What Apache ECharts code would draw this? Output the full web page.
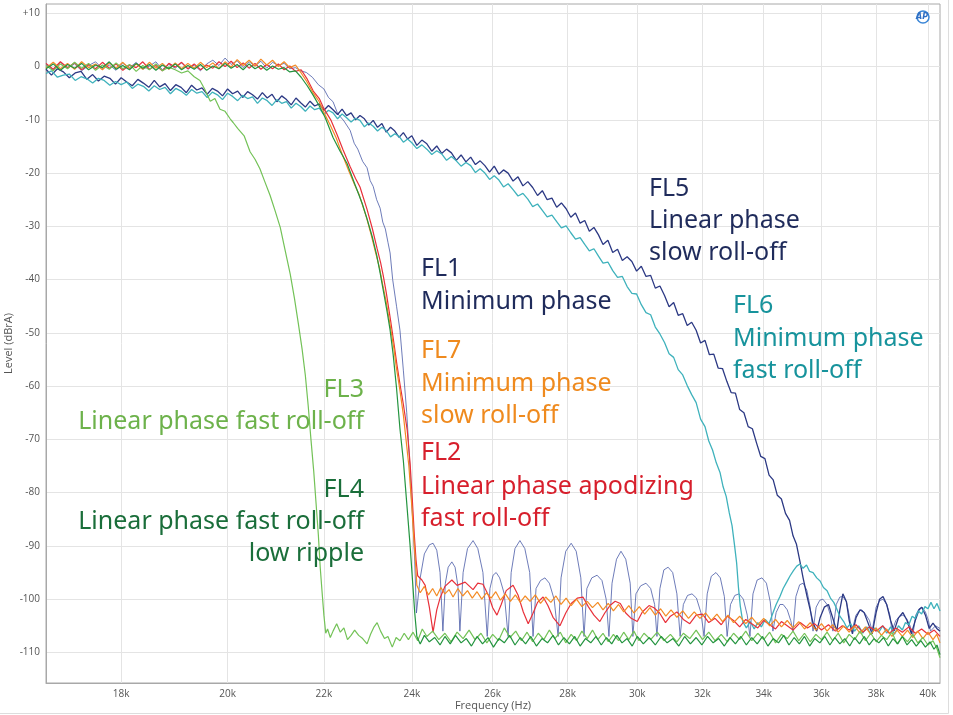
<!DOCTYPE html>
<html>
<head>
<meta charset="utf-8">
<script src="https://cdn.jsdelivr.net/npm/echarts@6.0.0/dist/echarts.min.js"></script>
<style>
html, body { margin: 0; padding: 0; background: #fff; }
#main { width: 953px; height: 715px; }
</style>
</head>
<body>
<div id="main"></div>
<script>
// tick labels
var xTicks = [18, 20, 22, 24, 26, 28, 30, 32, 34, 36, 38, 40];   // kHz
var yTicks = [-110, -100, -90, -80, -70, -60, -50, -40, -30, -20, -10, 0, 10];

// [frequency kHz, level dBrA]
var fl1 = [[16.71,0.4],[16.83,-0.6],[16.95,0.8],[17.07,-0.3],[17.19,0.5],[17.31,-0.8],[17.43,0.2],[17.55,0.9],[17.67,-0.4],[17.79,0.3],[17.91,-0.7],[18.03,0.6],[18.15,-0.2],[18.27,0.8],[18.39,-0.5],[18.51,0.1],[18.63,0.9],[18.75,-0.6],[18.87,0.4],[18.99,-0.3],[19.11,0.7],[19.23,-0.5],[19.35,0.3],[19.47,-0.8],[19.59,0.5],[19.71,1.2],[19.83,0.2],[19.95,1.6],[20.07,0.4],[20.19,1.1],[20.31,-0.2],[20.43,0.9],[20.55,0.1],[20.67,1.0],[20.79,-0.3],[20.91,0.8],[21.03,0.2],[21.15,0.6],[21.27,-0.4],[21.39,-0.2],[21.5,-0.8],[21.62,-1.1],[21.75,-2.0],[21.88,-3.4],[22.0,-4.2],[22.1,-5.8],[22.2,-6.6],[22.3,-8.8],[22.44,-10.2],[22.58,-12.0],[22.67,-14.4],[22.75,-15.5],[22.86,-17.8],[22.96,-19.0],[23.03,-21.4],[23.1,-22.5],[23.18,-25.0],[23.26,-26.6],[23.32,-29.2],[23.38,-30.5],[23.44,-33.0],[23.49,-35.0],[23.55,-40.0],[23.64,-45.0],[23.72,-49.5],[23.8,-57.0],[23.88,-65.0],[23.94,-73.0],[23.99,-81.0],[24.04,-87.5],[24.07,-93.0],[24.11,-102.6],
  [24.2,-96],[24.3,-91.5],[24.42,-89.8],[24.51,-89.5],[24.6,-90.8],[24.68,-95],[24.75,-106],[24.81,-97],[24.88,-94],[24.97,-93],[25.05,-94],[25.12,-97.5],[25.17,-106],[25.25,-95],[25.36,-90.5],[25.5,-89],[25.62,-90.5],[25.75,-95],[25.86,-107],[25.93,-98],[26.01,-95.5],[26.09,-95],[26.18,-96],[26.3,-99],[26.4,-107],[26.48,-95],[26.58,-90.5],[26.71,-89],[26.84,-90.5],[26.97,-95],[27.06,-107],[27.14,-98],[27.26,-96.5],[27.38,-96],[27.5,-97],[27.63,-100],[27.74,-107],[27.82,-96],[27.95,-91],[28.1,-89.5],[28.24,-91],[28.37,-96],[28.46,-107],[28.54,-98],[28.68,-96],[28.83,-95.5],[28.97,-96.5],[29.09,-100],[29.17,-107],[29.26,-97],[29.39,-92.5],[29.52,-91],[29.66,-92.5],[29.79,-97],[29.87,-107],[29.96,-99],[30.1,-97.5],[30.26,-97],[30.4,-98],[30.52,-101],[30.59,-107],[30.68,-98],[30.8,-94.5],[30.93,-94],[31.07,-95],[31.2,-99],[31.3,-107],[31.4,-101],[31.53,-99.3],[31.67,-99],[31.81,-99.8],[31.95,-102.5],[32.05,-107],[32.15,-99],[32.28,-95.7],[32.43,-95],[32.57,-96],[32.7,-99.5],[32.79,-107],[32.9,-101],[33.04,-99.3],[33.18,-99],[33.32,-100],[33.45,-103],[33.54,-107],[33.64,-99],[33.78,-96.4],[33.94,-96],[34.09,-97],[34.22,-100.5],[34.31,-106],[34.42,-102.5],[34.55,-101],[34.66,-101],[34.8,-102],[34.92,-104],[35.0,-106],[35.1,-99.5],[35.23,-97.3],[35.35,-97],[35.48,-98.3],[35.6,-101.5],[35.7,-106],[35.81,-101.5],[35.94,-100.2],[36.05,-100],[36.2,-101],[36.32,-103],[36.41,-106],[36.53,-101],[36.66,-99.6],[36.77,-99.5],[36.9,-100.5],[37.0,-103],[37.1,-106],[37.25,-103],[37.37,-102.2],[37.47,-102],[37.6,-102.8],[37.75,-104],[37.85,-106],[38.0,-101.5],[38.13,-100.3],[38.26,-100],[38.4,-101],[38.52,-103],[38.6,-106],[38.75,-104],[38.9,-103.2],[39.02,-103],[39.16,-103.6],[39.3,-105],[39.4,-107],[39.52,-103],[39.65,-101.8],[39.76,-101.5],[39.9,-102.4],[40.02,-104],[40.1,-106],[40.3,-105],[40.48,-105.5]];

var fl2 = [[16.71,0.6],[16.83,-0.5],[16.95,0.9],[17.07,-0.2],[17.19,0.7],[17.31,-0.6],[17.43,0.4],[17.55,-0.4],[17.67,0.8],[17.79,-0.3],[17.91,0.5],[18.03,-0.7],[18.15,0.3],[18.27,-0.2],[18.39,0.9],[18.51,-0.5],[18.63,0.2],[18.75,-0.8],[18.87,0.6],[18.99,-0.1],[19.11,0.8],[19.23,-0.4],[19.35,0.5],[19.47,-0.6],[19.59,0.3],[19.71,-0.3],[19.83,0.9],[19.95,0.0],[20.07,1.0],[20.19,-0.2],[20.31,0.7],[20.43,-0.3],[20.55,0.6],[20.67,-0.5],[20.79,0.4],[20.91,-0.4],[21.03,0.5],[21.15,-0.6],[21.27,0.1],[21.39,-0.9],[21.51,-0.6],[21.63,-2.2],[21.77,-4.6],[21.9,-6.0],[22.0,-7.9],[22.15,-10.0],[22.29,-12.8],[22.42,-15.6],[22.58,-18.8],[22.7,-21.0],[22.8,-22.6],[22.96,-26.8],[23.08,-30.4],[23.19,-34.2],[23.27,-36.8],[23.33,-39.2],[23.4,-42.4],[23.5,-47.6],[23.58,-52.0],[23.65,-56.0],[23.72,-59.6],[23.8,-63.4],[23.89,-68.2],[23.96,-74.6],[24.01,-81.0],[24.06,-88.0],[24.1,-92.6],[24.14,-95.6],
  [24.24,-96.4],[24.32,-97.4],[24.42,-101.5],[24.51,-106.2],[24.6,-102.0],[24.68,-99.8],[24.8,-97.6],[24.97,-96.4],[25.1,-97.4],[25.3,-96.8],[25.5,-98.2],[25.62,-97.0],[25.75,-97.2],[25.9,-99.4],[26.0,-101.6],[26.11,-103.0],[26.22,-101.0],[26.35,-98.4],[26.53,-97.4],[26.66,-99.2],[26.8,-102.4],[26.93,-104.6],[27.05,-102.8],[27.18,-100.6],[27.33,-99.6],[27.46,-101.2],[27.6,-103.4],[27.79,-105.0],[27.95,-102.6],[28.1,-100.8],[28.27,-99.8],[28.43,-99.6],[28.58,-101.4],[28.74,-103.0],[28.91,-104.2],[29.05,-102.6],[29.2,-101.2],[29.35,-100.4],[29.5,-100.8],[29.66,-102.6],[29.82,-103.6],[30.0,-104.2],[30.15,-102.4],[30.35,-101.2],[30.5,-101.6],[30.67,-102.6],[30.85,-104.4],[31.0,-103.2],[31.2,-102.4],[31.4,-103.8],[31.6,-104.6],[31.8,-103.0],[32.0,-102.8],[32.2,-104.4],[32.4,-103.6],[32.6,-104.8],[32.8,-103.2],[33.0,-104.0],[33.2,-105.2],[33.4,-103.8],[33.6,-104.6],[33.8,-105.4],[34.0,-104.0],[34.2,-104.8],[34.4,-105.6],[34.6,-104.2],[34.8,-105.0],[35.0,-105.8],[35.25,-104.4],[35.5,-105.4],[35.75,-104.6],[36.0,-105.8],[36.25,-104.8],[36.5,-106.0],[36.75,-105.0],[37.0,-105.8],[37.25,-104.8],[37.5,-106.2],[37.75,-105.2],[38.0,-106.0],[38.25,-105.0],[38.5,-106.4],[38.75,-105.4],[39.0,-106.2],[39.25,-105.2],[39.5,-106.4],[39.75,-105.6],[40.0,-106.6],[40.25,-105.8],[40.48,-107.0]];

var fl3 = [[16.71,0.2],[16.83,-0.8],[16.95,0.5],[17.07,-0.4],[17.19,0.8],[17.31,-0.3],[17.43,0.6],[17.55,-0.7],[17.67,0.3],[17.79,-0.5],[17.91,0.7],[18.03,-0.4],[18.15,0.4],[18.27,-0.9],[18.39,0.2],[18.51,-0.6],[18.63,0.5],[18.75,-0.8],[18.87,-0.1],[18.99,-0.6],[19.11,-1.2],[19.23,-0.8],[19.35,-1.9],[19.46,-2.6],[19.55,-4.2],[19.66,-6.5],[19.75,-6.0],[19.85,-8.0],[19.95,-8.4],[20.05,-9.8],[20.11,-10.5],[20.2,-11.6],[20.33,-13.0],[20.45,-16.0],[20.55,-17.4],[20.65,-19.2],[20.75,-21.6],[20.86,-24.2],[20.96,-27.0],[21.07,-30.2],[21.17,-34.4],[21.28,-39.0],[21.37,-43.6],[21.45,-48.2],[21.53,-53.0],[21.6,-58.0],[21.66,-63.6],[21.72,-70.0],[21.78,-76.0],[21.83,-82.0],[21.88,-88.0],[21.92,-94.0],[21.96,-98.6],[22.0,-103.0],[22.04,-106.4],
  [22.08,-105.6],[22.14,-107.2],[22.2,-106.0],[22.28,-104.6],[22.36,-106.2],[22.44,-105.4],[22.52,-107.6],[22.6,-106.8],[22.68,-105.8],[22.77,-106.8],[22.86,-107.4],[22.96,-108.4],[23.04,-106.6],[23.12,-105.2],[23.19,-104.4],[23.27,-106.0],[23.36,-107.4],[23.44,-107.0],[23.54,-109.0],[23.63,-107.2],[23.72,-107.8],[23.82,-106.4],[23.92,-107.6],[24.03,-106.2],[24.14,-107.8],[24.25,-105.6],[24.36,-107.0],[24.5,-106.0],[24.65,-107.6],[24.8,-106.4],[24.95,-108.0],[25.1,-106.2],[25.25,-107.4],[25.4,-105.8],[25.55,-107.6],[25.7,-106.4],[25.85,-108.2],[26.0,-106.6],[26.15,-107.8],[26.3,-105.4],[26.45,-107.2],[26.6,-106.0],[26.75,-107.8],[26.9,-106.2],[27.05,-108.0],[27.2,-106.4],[27.35,-107.6],[27.5,-105.8],[27.65,-107.4],[27.8,-106.2],[27.95,-108.2],[28.1,-106.6],[28.25,-107.8],[28.4,-106.0],[28.55,-107.4],[28.7,-105.8],[28.85,-107.6],[29.0,-106.4],[29.15,-108.0],[29.3,-106.6],[29.45,-107.8],[29.6,-106.2],[29.75,-107.6],[29.9,-106.0],[30.05,-107.8],[30.2,-106.4],[30.4,-107.6],[30.6,-106.2],[30.8,-107.8],[31.0,-106.6],[31.2,-108.0],[31.4,-106.4],[31.6,-107.4],[31.8,-105.8],[32.0,-107.6],[32.2,-106.2],[32.4,-107.8],[32.6,-106.6],[32.8,-108.0],[33.0,-106.4],[33.2,-107.6],[33.4,-106.0],[33.6,-107.8],[33.8,-106.4],[34.0,-107.6],[34.2,-106.2],[34.4,-108.2],[34.6,-106.6],[34.8,-107.4],[35.0,-106.0],[35.2,-107.8],[35.4,-106.4],[35.6,-108.0],[35.8,-106.6],[36.0,-107.6],[36.2,-106.2],[36.4,-107.8],[36.6,-106.4],[36.8,-108.2],[37.0,-106.6],[37.2,-107.6],[37.4,-106.0],[37.6,-107.8],[37.8,-106.4],[38.0,-108.0],[38.2,-106.8],[38.4,-107.6],[38.6,-106.2],[38.8,-108.4],[39.0,-107.0],[39.2,-108.0],[39.4,-106.6],[39.6,-108.2],[39.8,-107.2],[40.0,-108.6],[40.2,-107.8],[40.35,-109.2],[40.48,-111.0]];

var fl4 = [[16.71,-0.4],[16.83,0.5],[16.95,-0.7],[17.07,0.4],[17.19,-0.3],[17.31,0.6],[17.43,-0.6],[17.55,0.3],[17.67,-0.2],[17.79,0.9],[17.91,-0.5],[18.03,0.2],[18.15,-0.6],[18.27,0.6],[18.39,-0.3],[18.51,0.4],[18.63,-0.7],[18.75,0.3],[18.87,-0.4],[18.99,0.5],[19.11,-0.6],[19.23,0.2],[19.35,-0.5],[19.47,0.4],[19.59,-0.7],[19.71,0.1],[19.83,-0.4],[19.95,0.6],[20.07,-0.3],[20.19,0.4],[20.31,-0.6],[20.43,0.5],[20.55,-0.4],[20.67,0.2],[20.79,-0.7],[20.91,0.1],[21.03,-0.5],[21.15,-0.2],[21.27,-1.0],[21.39,-0.8],[21.51,-2.0],[21.64,-3.6],[21.77,-5.4],[21.9,-7.4],[22.03,-9.6],[22.2,-13.3],[22.35,-15.8],[22.51,-18.2],[22.68,-22.0],[22.85,-25.7],[22.96,-28.6],[23.08,-32.0],[23.18,-35.4],[23.26,-38.8],[23.34,-42.4],[23.42,-46.0],[23.49,-49.5],[23.56,-54.0],[23.64,-60.4],[23.72,-68.0],[23.8,-74.0],[23.88,-82.0],[23.96,-90.0],[24.03,-98.0],[24.07,-102.6],[24.12,-107.0],
  [24.2,-108.4],[24.3,-106.8],[24.42,-108.0],[24.55,-107.2],[24.68,-108.6],[24.8,-107.0],[24.93,-108.4],[25.06,-106.8],[25.2,-108.2],[25.33,-107.4],[25.46,-108.8],[25.6,-107.0],[25.74,-108.4],[25.88,-107.2],[26.02,-109.0],[26.16,-107.4],[26.3,-108.2],[26.44,-106.8],[26.58,-108.6],[26.72,-107.2],[26.86,-108.4],[27.0,-107.0],[27.15,-108.8],[27.3,-107.4],[27.45,-108.2],[27.6,-106.8],[27.75,-108.6],[27.9,-107.2],[28.05,-108.4],[28.2,-107.0],[28.35,-108.8],[28.5,-107.4],[28.65,-108.2],[28.8,-107.0],[28.95,-108.6],[29.1,-107.2],[29.25,-108.4],[29.4,-106.8],[29.55,-108.2],[29.7,-107.4],[29.85,-108.8],[30.0,-107.0],[30.18,-108.4],[30.36,-107.2],[30.54,-108.6],[30.72,-107.0],[30.9,-108.2],[31.08,-107.4],[31.26,-108.8],[31.44,-107.0],[31.62,-108.4],[31.8,-107.2],[31.98,-108.6],[32.16,-107.0],[32.34,-108.2],[32.52,-107.4],[32.7,-108.8],[32.88,-107.2],[33.06,-108.4],[33.24,-107.0],[33.42,-108.6],[33.6,-107.2],[33.78,-108.4],[33.96,-107.0],[34.14,-108.8],[34.32,-107.4],[34.5,-108.2],[34.68,-106.8],[34.86,-108.6],[35.04,-107.2],[35.22,-108.4],[35.4,-107.0],[35.58,-108.8],[35.76,-107.4],[35.94,-108.2],[36.12,-107.0],[36.3,-108.6],[36.48,-107.2],[36.66,-108.4],[36.84,-107.4],[37.02,-108.8],[37.2,-107.2],[37.38,-108.4],[37.56,-107.0],[37.74,-108.6],[37.92,-107.4],[38.1,-108.2],[38.28,-107.2],[38.46,-108.8],[38.64,-107.4],[38.82,-108.4],[39.0,-107.0],[39.18,-108.6],[39.36,-107.6],[39.54,-108.8],[39.72,-107.8],[39.9,-109.0],[40.08,-108.0],[40.24,-109.4],[40.36,-108.6],[40.48,-110.4]];

var fl5 = [[16.71,-0.5],[16.8,-1.6],[16.9,-0.4],[17.0,-1.0],[17.1,-2.1],[17.2,-1.2],[17.3,-0.9],[17.4,-2.4],[17.5,-1.5],[17.6,-2.7],[17.7,-1.8],[17.8,-2.2],[17.9,-3.3],[18.0,-2.1],[18.1,-2.9],[18.2,-3.6],[18.3,-2.4],[18.4,-3.1],[18.5,-3.9],[18.6,-2.6],[18.7,-3.8],[18.8,-3.2],[18.9,-4.5],[19.0,-3.4],[19.1,-3.9],[19.2,-4.9],[19.3,-3.5],[19.4,-4.4],[19.5,-4.0],[19.6,-5.2],[19.7,-4.1],[19.8,-4.6],[19.9,-5.5],[20.0,-4.2],[20.1,-5.1],[20.2,-4.6],[20.3,-5.8],[20.4,-4.7],[20.5,-5.3],[20.6,-6.1],[20.7,-4.9],[20.8,-5.9],[20.9,-5.2],[21.0,-6.6],[21.1,-5.5],[21.2,-6.2],[21.3,-7.2],[21.4,-5.9],[21.5,-6.8],[21.6,-7.6],[21.7,-6.5],[21.8,-7.4],[21.9,-7.0],[22.0,-8.2],[22.1,-7.3],[22.2,-8.1],[22.3,-9.0],[22.4,-8.0],[22.5,-9.2],[22.6,-8.7],[22.7,-10.0],[22.8,-9.2],[22.9,-9.8],[23.0,-11.0],[23.1,-10.1],[23.2,-11.4],[23.3,-10.7],[23.4,-12.3],[23.5,-11.4],[23.6,-12.1],[23.7,-13.3],[23.8,-12.4],[23.9,-13.6],[24.0,-13.0],[24.12,-14.8],[24.24,-13.8],[24.36,-14.5],[24.48,-15.9],[24.6,-14.9],[24.72,-16.3],[24.84,-15.5],[24.96,-16.2],[25.08,-17.6],[25.2,-16.6],[25.32,-17.9],[25.44,-17.0],[25.56,-18.4],[25.68,-17.7],[25.8,-18.6],[25.92,-19.8],[26.04,-18.7],[26.16,-20.2],[26.28,-19.4],[26.4,-20.0],[26.53,-21.5],[26.66,-20.7],[26.79,-22.4],[26.92,-21.6],[27.05,-22.7],[27.18,-24.2],[27.31,-23.3],[27.44,-25.0],[27.57,-24.7],[27.7,-26.4],[27.83,-25.6],[27.96,-26.7],[28.09,-28.3],[28.22,-27.5],[28.35,-29.4],[28.48,-28.9],[28.61,-30.9],[28.74,-30.2],[28.87,-31.6],[29.0,-33.4],[29.14,-32.6],[29.28,-34.9],[29.42,-34.3],[29.56,-36.4],[29.7,-35.7],[29.84,-36.6],[29.98,-38.4],[30.12,-37.5],[30.26,-39.4],[30.4,-39.2],[30.54,-41.6],[30.68,-41.2],[30.82,-43.0],[30.96,-45.1],[31.1,-44.3],[31.24,-46.7],[31.38,-46.4],[31.52,-48.6],[31.66,-48.0],[31.8,-49.5],[31.94,-51.9],[32.08,-51.4],[32.22,-54.1],[32.36,-54.0],[32.5,-56.6],[32.64,-56.7],[32.78,-59.1],[32.92,-61.2],[33.06,-61.3],[33.2,-64.4],[33.34,-65.0],[33.48,-67.6],[33.62,-68.0],[33.76,-70.7],[33.9,-73.2],[34.04,-73.6],[34.18,-76.7],[34.32,-77.6],[34.46,-80.5],[34.6,-81.2],[34.74,-83.9],[34.88,-85.2],[35.0,-88.1],[35.12,-89.7],[35.24,-92.9],[35.35,-96],[35.49,-99.5],[35.6,-102],[35.7,-104.5],[35.83,-106],
  [35.95,-103.5],[36.1,-101.5],[36.25,-101],[36.4,-103.5],[36.55,-106],[36.66,-102],[36.77,-99],[36.9,-100.5],[37.0,-104],[37.12,-106.5],[37.25,-103.5],[37.4,-102],[37.55,-102.5],[37.7,-104.5],[37.85,-106.5],[38.0,-102.5],[38.13,-100],[38.26,-99.5],[38.4,-101],[38.55,-104],[38.68,-106],[38.85,-103.5],[39.02,-102.5],[39.18,-104],[39.35,-106.5],[39.5,-104],[39.65,-102],[39.76,-101.5],[39.9,-103],[40.05,-105.5],[40.2,-104.5],[40.35,-105.5],[40.48,-106]];

var fl6 = [[16.71,-1.3],[16.8,-0.8],[16.9,-2.0],[17.0,-1.6],[17.1,-1.4],[17.2,-2.6],[17.3,-1.9],[17.4,-2.3],[17.5,-3.1],[17.6,-2.2],[17.7,-2.6],[17.8,-3.5],[17.9,-2.8],[18.0,-3.4],[18.1,-2.9],[18.2,-4.1],[18.3,-3.3],[18.4,-3.7],[18.5,-4.6],[18.6,-3.6],[18.7,-4.3],[18.8,-3.9],[18.9,-5.1],[19.0,-4.1],[19.1,-4.6],[19.2,-5.4],[19.3,-4.3],[19.4,-5.0],[19.5,-4.7],[19.6,-5.8],[19.7,-4.8],[19.8,-5.3],[19.9,-6.2],[20.0,-5.0],[20.1,-5.6],[20.2,-6.4],[20.3,-5.4],[20.4,-6.0],[20.5,-5.7],[20.6,-6.9],[20.7,-5.9],[20.8,-6.4],[20.9,-7.3],[21.0,-6.2],[21.1,-6.9],[21.2,-6.6],[21.3,-7.8],[21.4,-6.9],[21.5,-7.5],[21.6,-8.4],[21.7,-7.4],[21.8,-8.1],[21.9,-7.8],[22.0,-9.0],[22.1,-8.2],[22.2,-8.7],[22.3,-9.8],[22.4,-8.9],[22.5,-9.6],[22.6,-10.4],[22.7,-9.7],[22.8,-10.1],[22.9,-11.3],[23.0,-10.6],[23.1,-11.2],[23.2,-12.1],[23.3,-11.4],[23.4,-12.0],[23.5,-13.2],[23.6,-12.6],[23.7,-13.1],[23.8,-14.2],[23.9,-13.6],[24.0,-14.3],[24.12,-15.4],[24.24,-14.7],[24.36,-15.5],[24.48,-16.5],[24.6,-15.8],[24.72,-16.4],[24.84,-17.6],[24.96,-16.9],[25.08,-17.7],[25.2,-18.7],[25.32,-18.0],[25.44,-18.6],[25.56,-19.9],[25.68,-19.2],[25.8,-20.0],[25.92,-21.2],[26.04,-20.5],[26.16,-21.3],[26.28,-22.6],[26.4,-22.0],[26.53,-23.1],[26.66,-24.3],[26.79,-23.8],[26.92,-24.9],[27.05,-26.3],[27.18,-25.8],[27.31,-27.0],[27.44,-28.2],[27.57,-27.9],[27.7,-29.1],[27.83,-30.3],[27.96,-29.9],[28.09,-31.2],[28.22,-32.4],[28.35,-32.1],[28.48,-33.4],[28.61,-34.6],[28.74,-34.2],[28.87,-35.6],[29.0,-36.9],[29.14,-36.7],[29.28,-38.3],[29.42,-39.6],[29.56,-39.4],[29.7,-41.3],[29.84,-42.6],[29.98,-42.7],[30.12,-44.7],[30.26,-46.2],[30.4,-46.6],[30.54,-48.9],[30.68,-50.2],[30.82,-51.8],[30.96,-53.9],[31.1,-54.6],[31.24,-56.9],[31.38,-57.9],[31.52,-59.9],[31.66,-61.6],[31.8,-63.1],[31.94,-66.2],[32.08,-67.6],[32.2,-70.3],[32.32,-72.0],[32.44,-74.4],[32.56,-76.2],[32.66,-78.9],[32.76,-80.7],[32.86,-83.8],[32.95,-86.2],[33.03,-89.8],[33.1,-93.2],[33.16,-97.8],[33.22,-101.3],[33.3,-104.2],
  [33.42,-105.4],[33.55,-104.2],[33.68,-105.6],[33.8,-104.4],[33.92,-105.2],[34.05,-103.8],[34.18,-104.6],[34.31,-102.6],[34.42,-101],[34.55,-99.5],[34.66,-98],[34.78,-96.8],[34.9,-95.6],[35.02,-94.6],[35.13,-93.8],[35.24,-93.4],[35.35,-94.2],[35.47,-93.6],[35.58,-94.8],[35.7,-95.0],[35.83,-96.0],[35.95,-96.6],[36.07,-97.8],[36.2,-98.4],[36.32,-99.8],[36.44,-100.6],[36.53,-101.6],[36.66,-103.2],[36.8,-104.2],[36.92,-105.4],[37.05,-104.6],[37.2,-106.0],[37.35,-105.0],[37.5,-106.4],[37.65,-105.2],[37.8,-106.6],[37.95,-105.4],[38.1,-106.2],[38.25,-105.0],[38.4,-106.4],[38.55,-105.2],[38.7,-106.6],[38.85,-105.0],[39.0,-105.8],[39.12,-104.4],[39.25,-104.8],[39.38,-103.2],[39.5,-103.6],[39.62,-102.2],[39.75,-102.8],[39.88,-101.4],[40.0,-101.8],[40.12,-100.6],[40.24,-101.8],[40.36,-100.8],[40.48,-102.2]];

var fl7 = [[16.71,-0.3],[16.83,0.8],[16.95,-0.4],[17.07,0.6],[17.19,-0.5],[17.31,0.9],[17.43,-0.2],[17.55,0.5],[17.67,-0.6],[17.79,0.7],[17.91,-0.3],[18.03,0.8],[18.15,-0.4],[18.27,0.5],[18.39,-0.5],[18.51,0.8],[18.63,-0.3],[18.75,0.6],[18.87,-0.5],[18.99,0.7],[19.11,-0.4],[19.23,0.6],[19.35,-0.3],[19.47,0.8],[19.59,-0.2],[19.71,0.7],[19.83,-0.4],[19.95,0.9],[20.07,-0.1],[20.19,1.3],[20.31,0.2],[20.43,1.2],[20.55,0.1],[20.67,1.4],[20.79,0.3],[20.91,1.2],[21.03,0.0],[21.15,0.9],[21.27,-0.2],[21.39,0.3],[21.51,-1.2],[21.63,-2.8],[21.77,-5.0],[21.9,-6.6],[22.0,-8.6],[22.14,-11.0],[22.27,-13.4],[22.4,-16.4],[22.55,-19.6],[22.68,-22.2],[22.78,-24.0],[22.95,-28.4],[23.06,-31.8],[23.17,-35.4],[23.25,-38.0],[23.31,-40.6],[23.4,-44.2],[23.5,-49.0],[23.58,-53.0],[23.63,-56.2],[23.72,-60.8],[23.8,-65.4],[23.86,-69.8],[23.93,-75.0],[24.0,-82.6],[24.05,-89.0],[24.09,-93.4],[24.12,-97.4],
  [24.2,-98.8],[24.3,-97.6],[24.4,-99.2],[24.5,-98.0],[24.6,-99.4],[24.7,-97.8],[24.8,-99.0],[24.9,-98.2],[25.0,-99.6],[25.12,-98.0],[25.24,-99.4],[25.36,-98.4],[25.48,-99.8],[25.6,-98.6],[25.72,-100.0],[25.84,-98.8],[25.96,-99.8],[26.08,-98.6],[26.2,-100.2],[26.33,-99.0],[26.46,-100.4],[26.59,-99.2],[26.72,-100.6],[26.85,-99.4],[26.98,-100.4],[27.12,-99.2],[27.26,-100.8],[27.4,-99.6],[27.54,-100.6],[27.68,-99.4],[27.82,-101.0],[27.96,-99.8],[28.1,-101.2],[28.25,-100.0],[28.4,-101.4],[28.55,-100.4],[28.7,-101.6],[28.85,-100.6],[29.0,-102.0],[29.15,-100.8],[29.3,-102.2],[29.45,-101.0],[29.6,-102.4],[29.75,-101.2],[29.9,-102.6],[30.06,-101.4],[30.22,-102.8],[30.38,-101.6],[30.54,-103.0],[30.7,-101.8],[30.86,-103.2],[31.02,-102.0],[31.2,-103.4],[31.38,-102.2],[31.56,-103.6],[31.74,-102.4],[31.92,-103.6],[32.1,-102.6],[32.28,-104.0],[32.46,-102.8],[32.64,-104.2],[32.82,-103.0],[33.0,-104.4],[33.2,-103.2],[33.4,-104.6],[33.6,-103.4],[33.8,-104.8],[34.0,-103.6],[34.2,-105.0],[34.4,-103.8],[34.6,-105.2],[34.8,-104.0],[35.0,-105.4],[35.2,-104.2],[35.4,-105.6],[35.6,-104.4],[35.8,-105.8],[36.0,-104.6],[36.2,-106.0],[36.4,-104.8],[36.6,-106.2],[36.8,-105.0],[37.0,-106.2],[37.2,-105.0],[37.4,-106.4],[37.6,-105.2],[37.8,-106.6],[38.0,-105.4],[38.2,-106.8],[38.4,-105.6],[38.6,-107.0],[38.8,-105.8],[39.0,-107.0],[39.2,-105.8],[39.4,-107.2],[39.6,-106.0],[39.8,-107.4],[40.0,-106.2],[40.2,-107.6],[40.35,-106.6],[40.48,-108.2]];

// 曲线说明文字: [text, x, y, color, align]
var labels = [
    ['FL5', 649, 186, '#1f2b5b', 'left'],
    ['Linear phase', 649, 218, '#1f2b5b', 'left'],
    ['slow roll-off', 649, 250, '#1f2b5b', 'left'],
    ['FL6', 733, 303, '#17939c', 'left'],
    ['Minimum phase', 733, 336, '#17939c', 'left'],
    ['fast roll-off', 733, 368, '#17939c', 'left'],
    ['FL1', 421, 266, '#1f2b5b', 'left'],
    ['Minimum phase', 421, 299, '#1f2b5b', 'left'],
    ['FL7', 421, 348, '#ef8a1e', 'left'],
    ['Minimum phase', 421, 381, '#ef8a1e', 'left'],
    ['slow roll-off', 421, 413, '#ef8a1e', 'left'],
    ['FL2', 421, 450, '#d71f2c', 'left'],
    ['Linear phase apodizing', 421, 484, '#d71f2c', 'left'],
    ['fast roll-off', 421, 516, '#d71f2c', 'left'],
    ['FL3', 364, 387, '#6db24b', 'right'],
    ['Linear phase fast roll-off', 364, 419, '#6db24b', 'right'],
    ['FL4', 364, 487, '#1a6e3a', 'right'],
    ['Linear phase fast roll-off', 364, 519, '#1a6e3a', 'right'],
    ['low ripple', 364, 551, '#1a6e3a', 'right']
];

function makeSeries(name, data, color, width, opacity) {
    return {
        name: name,
        type: 'line',
        data: data,
        showSymbol: false,
        silent: true,
        lineStyle: { color: color, width: width, opacity: opacity }
    };
}

var myChart = echarts.init(document.getElementById('main'));

var graphics = labels.map(function (l) {
    return {
        type: 'text',
        x: l[1],
        y: l[2] + 2.5,
        z: 100,
        style: {
            text: l[0],
            fill: l[3],
            align: l[4],
            verticalAlign: 'middle',
            font: '25px "Noto Sans"'
        }
    };
});
graphics.push({ type: 'line', shape: { x1: 948.5, y1: 0, x2: 948.5, y2: 713.5 }, style: { stroke: '#dddddd', lineWidth: 1 } });
graphics.push({ type: 'line', shape: { x1: 0, y1: 713.5, x2: 948.5, y2: 713.5 }, style: { stroke: '#dddddd', lineWidth: 1 } });
graphics.push({ type: 'circle', shape: { cx: 923, cy: 17, r: 6 }, style: { fill: 'none', stroke: '#3b86d6', lineWidth: 1.5 }, z: 100 });
graphics.push({ type: 'text', x: 922, y: 17, z: 101, style: { text: 'AP', fill: '#2f6fc4', align: 'center', verticalAlign: 'middle', font: 'italic bold 8px "DejaVu Sans"' } });

var option = {
    animation: false,
    backgroundColor: '#ffffff',
    grid: {
        left: 46, right: 13, top: 4, bottom: 32,
        show: true, borderColor: '#a8a8a8', borderWidth: 1,
        outerBoundsMode: 'none'
    },
    xAxis: {
        type: 'log',
        logBase: 10,
        min: 16.71,
        max: 40.48,
        name: 'Frequency (Hz)',
        nameLocation: 'middle',
        nameGap: 17,
        nameMoveOverlap: false,
        nameTextStyle: { color: '#555', fontSize: 11, fontFamily: 'Open Sans' },
        axisLine: { show: true, onZero: false, lineStyle: { color: '#a8a8a8' } },
        axisTick: { show: false, customValues: xTicks },
        axisLabel: {
            customValues: xTicks,
            color: '#555', fontSize: 10, fontFamily: 'Open Sans', margin: 6,
            formatter: function (v) { return Math.round(v) + 'k'; }
        },
        splitLine: { show: true, lineStyle: { color: '#e4e4e4' } },
        minorSplitLine: { show: false }
    },
    yAxis: {
        type: 'value',
        min: -115.74,
        max: 11.75,
        name: 'Level (dBrA)',
        nameLocation: 'middle',
        nameGap: 32,
        nameMoveOverlap: false,
        nameTextStyle: { color: '#555', fontSize: 11, fontFamily: 'Open Sans' },
        axisLine: { show: true, lineStyle: { color: '#a8a8a8' } },
        axisTick: { show: false, customValues: yTicks },
        axisLabel: {
            customValues: yTicks,
            color: '#555', fontSize: 10, fontFamily: 'Open Sans', margin: 6,
            formatter: function (v) { return v > 0 ? '+' + v : String(v); }
        },
        splitLine: { show: true, lineStyle: { color: '#e4e4e4' } }
    },
    series: [
        makeSeries('FL1', fl1, '#4a5ba8', 1.0, 0.8),
        makeSeries('FL5', fl5, '#2c3984', 1.3, 1),
        makeSeries('FL6', fl6, '#3fb2bc', 1.3, 1),
        makeSeries('FL2', fl2, '#e8303a', 1.2, 1),
        makeSeries('FL7', fl7, '#f38b25', 1.2, 1),
        makeSeries('FL3', fl3, '#73c257', 1.2, 1),
        makeSeries('FL4', fl4, '#23943f', 1.2, 1)
    ],
    graphic: graphics
};

myChart.setOption(option);
</script>
</body>
</html>
